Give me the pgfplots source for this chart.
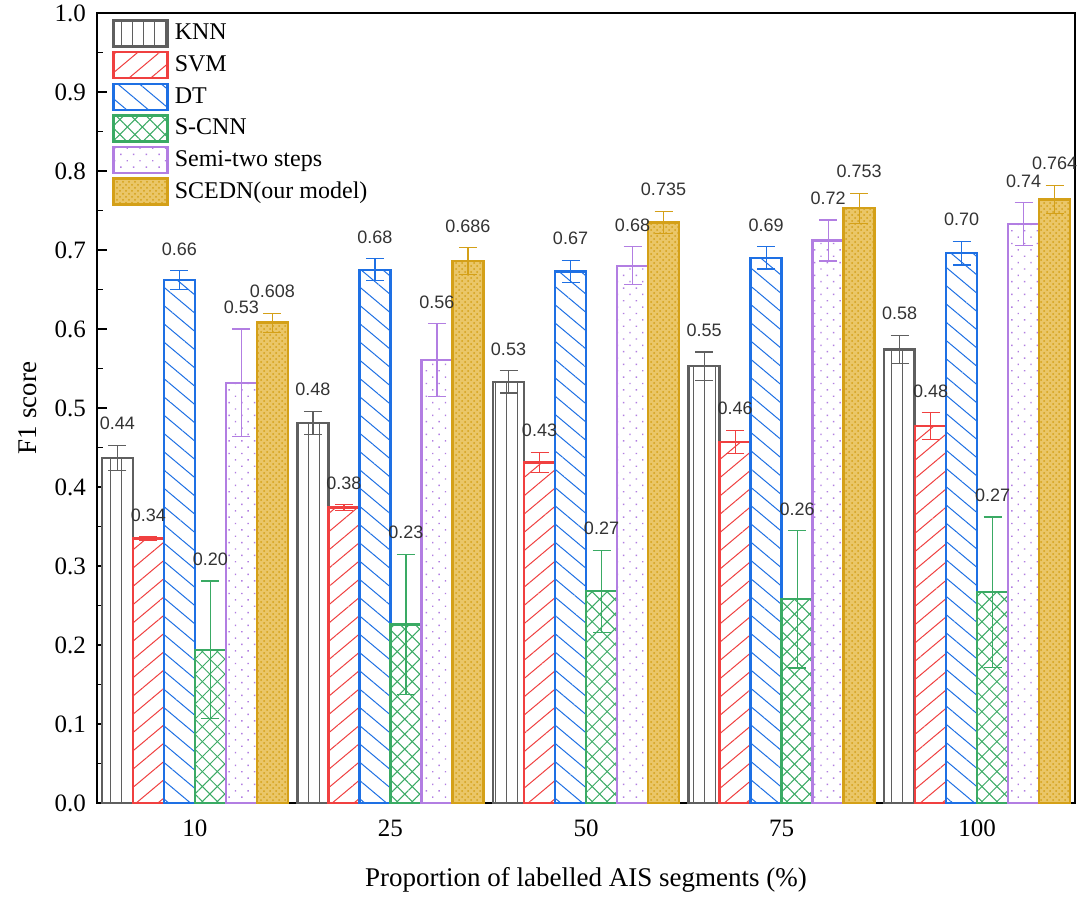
\documentclass[border=0pt]{standalone}
\usepackage{pgfplots}
\pgfplotsset{compat=1.18}
\usepackage{pgfplotstable}
\usepackage{fontspec}
\setmainfont{Liberation Serif}
\newfontfamily\arial{Liberation Sans}
\usetikzlibrary{patterns,patterns.meta}

\definecolor{knnc}{RGB}{95,95,95}
\definecolor{svmc}{RGB}{240,64,64}
\definecolor{dtc}{RGB}{30,112,228}
\definecolor{scnnc}{RGB}{58,170,100}
\definecolor{semic}{RGB}{178,126,226}
\definecolor{scednc}{RGB}{212,160,24}
\definecolor{scednfill}{RGB}{234,198,104}

\pgfplotstableread{
x y err lab
0 0.437 0.016 0.44
1 0.481 0.015 0.48
2 0.533 0.014 0.53
3 0.553 0.018 0.55
4 0.574 0.018 0.58
}\knn
\pgfplotstableread{
x y err lab
0 0.335 0.002 0.34
1 0.374 0.004 0.38
2 0.431 0.013 0.43
3 0.457 0.015 0.46
4 0.477 0.017 0.48
}\svm
\pgfplotstableread{
x y err lab
0 0.662 0.012 0.66
1 0.675 0.014 0.68
2 0.673 0.014 0.67
3 0.690 0.014 0.69
4 0.696 0.015 0.70
}\dt
\pgfplotstableread{
x y err lab
0 0.194 0.087 0.20
1 0.226 0.089 0.23
2 0.268 0.052 0.27
3 0.258 0.087 0.26
4 0.267 0.095 0.27
}\scnn
\pgfplotstableread{
x y err lab
0 0.532 0.068 0.53
1 0.561 0.046 0.56
2 0.680 0.024 0.68
3 0.712 0.026 0.72
4 0.733 0.027 0.74
}\semi
\pgfplotstableread{
x y err lab
0 0.608 0.012 0.608
1 0.686 0.017 0.686
2 0.735 0.014 0.735
3 0.753 0.019 0.753
4 0.764 0.018 0.764
}\scedn

\pgfplotsset{
  mylegend/.style={legend image code/.code={\draw[##1] (0pt,-6.5pt) rectangle (27pt,6.5pt);}},
  myerr/.style={error bars/.cd, y dir=both, y explicit,
     error bar style={line width=0.6pt, draw=#1},
     error mark=|,
     error mark options={line width=0.6pt, mark size=4.5pt, draw=#1}},
}

\begin{document}
\begin{tikzpicture}
\begin{axis}[
  name=ax,
  scale only axis,
  width=489pt, height=395pt,
  ybar=0pt, bar width=15.5pt,
  xmin=-0.5, xmax=4.5,
  ymin=0, ymax=1,
  clip=false,
  xtick={0,1,2,3,4},
  xticklabels={10,25,50,75,100},
  ytick={0,0.1,...,1.0},
  minor y tick num=1,
  xtick pos=bottom, ytick pos=left,
  tick align=inside,
  major tick length=5pt, minor tick length=3pt,
  every tick/.style={black, line width=0.8pt},
  axis line style={line width=1pt},
  /pgf/number format/assume math mode=true,
  ticklabel style={font=\fontsize{12.5}{14}\selectfont},
  yticklabel style={xshift=-2pt, /pgf/number format/fixed, /pgf/number format/fixed zerofill, /pgf/number format/precision=1},
  xticklabel style={yshift=-5pt},
  xlabel={Proportion of labelled AIS segments (\%)},
  ylabel={F1 score},
  label style={font=\fontsize{13.5}{16}\selectfont},
  xlabel style={at={(axis description cs:0.5,-0.0975)}, anchor=center},
  ylabel style={at={(axis description cs:-0.0706,0.5)}, anchor=center, rotate=0},
  point meta=explicit symbolic,
  nodes near coords,
  visualization depends on={\thisrow{err} \as \errv},
  every node near coord/.append style={font=\arial\fontsize{9}{10}\selectfont, color=black!80, inner sep=1pt, yshift=\errv*395pt+6pt},
  legend cell align=left,
  legend style={at={(0,1)}, anchor=north west, xshift=7.5pt, yshift=-3pt, draw=none, fill=none, inner sep=0pt,
     font=\fontsize{12}{14}\selectfont, row sep=1.6pt,
     /tikz/every odd column/.append style={column sep=1pt}},
]
\addplot[draw=knnc, line width=1.2pt, fill=white,
  postaction={pattern={Lines[angle=90,distance=5.5pt,line width=0.5pt]}, pattern color=knnc},
  mylegend, myerr=knnc] table[x=x, y=y, y error=err, meta=lab]{\knn};
\addlegendentry{KNN}
\addplot[draw=svmc, line width=1.2pt, fill=white,
  postaction={pattern={Lines[angle=40,distance=7pt,line width=0.5pt]}, pattern color=svmc},
  mylegend, myerr=svmc] table[x=x, y=y, y error=err, meta=lab]{\svm};
\addlegendentry{SVM}
\addplot[draw=dtc, line width=1.2pt, fill=white,
  postaction={pattern={Lines[angle=-40,distance=7pt,line width=0.5pt]}, pattern color=dtc},
  mylegend, myerr=dtc] table[x=x, y=y, y error=err, meta=lab]{\dt};
\addlegendentry{DT}
\addplot[draw=scnnc, line width=1.2pt, fill=white,
  postaction={pattern={Lines[angle=45,distance=5.3pt,line width=0.5pt]}, pattern color=scnnc},
  postaction={pattern={Lines[angle=-45,distance=5.3pt,line width=0.5pt]}, pattern color=scnnc},
  mylegend, myerr=scnnc] table[x=x, y=y, y error=err, meta=lab]{\scnn};
\addlegendentry{S-CNN}
\addplot[draw=semic, line width=1.2pt, fill=white,
  postaction={pattern={Dots[distance=4.5pt,radius=0.5pt,angle=45]}, pattern color=semic},
  mylegend, myerr=semic] table[x=x, y=y, y error=err, meta=lab]{\semi};
\addlegendentry{Semi-two steps}
\addplot[draw=scednc, line width=1.2pt, fill=scednfill,
  postaction={pattern=crosshatch dots, pattern color=scednc},
  mylegend, myerr=scednc] table[x=x, y=y, y error=err, meta=lab]{\scedn};
\addlegendentry{SCEDN(our model)}
\end{axis}
\pgfresetboundingbox
\path[use as bounding box] ([shift={(-48.5pt,-48pt)}]ax.south west) rectangle ([shift={(1.5pt,6.5pt)}]ax.north east);
\end{tikzpicture}
\end{document}
